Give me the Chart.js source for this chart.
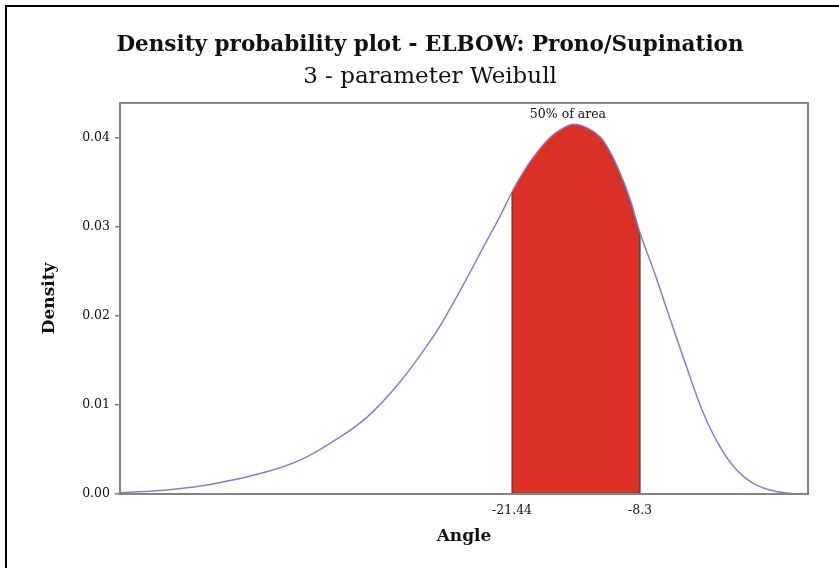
<!DOCTYPE html>
<html>
<head>
<meta charset="utf-8">
<script src="https://cdn.jsdelivr.net/npm/chart.js@4/dist/chart.umd.min.js"></script>
<style>
  html, body { margin: 0; padding: 0; background: #fff; }
  body { width: 839px; height: 568px; position: relative; overflow: hidden; }
  #frame { position: absolute; left: 5px; top: 5px; width: 840px; height: 570px;
           border-left: 2px solid #000; border-top: 2px solid #000; }
  #wrap { position: absolute; left: 21px; top: 0; width: 818px; height: 568px; }
</style>
</head>
<body>
<div id="frame"></div>
<div id="wrap"><canvas id="chart"></canvas></div>
<script>
// Fitted 3-parameter Weibull density for elbow prono/supination angle
const angles = [-61.7, -56.89, -51.76, -46.62, -43.21, -39.82, -36.36, -32.94, -29.52, -27.81,
                -26.09, -24.39, -22.67, -21.44, -20.62, -19.25, -17.54, -16.3, -15.1, -13.74,
                -12.41, -11.58, -10.69, -9.33, -8.30, -6.93, -5.22, -3.50, -1.80, -0.08,
                1.63, 3.33, 5.05, 6.76, 7.82, 8.95];
const density = [0.00015, 0.00045, 0.0012, 0.0025, 0.0038, 0.0059, 0.0086, 0.0126, 0.0177, 0.0208,
                 0.0242, 0.0277, 0.0312, 0.0339, 0.0355, 0.0378, 0.0400, 0.0410, 0.0415, 0.0411,
                 0.0401, 0.0388, 0.0369, 0.0331, 0.0293, 0.0252, 0.0197, 0.0142, 0.0091, 0.0053,
                 0.0027, 0.0012, 0.00045, 0.0001, 0.0, 0.0];

// Central interval holding half of the probability mass
const lowerBound = -21.44;
const upperBound = -8.3;
const xTicks = [lowerBound, upperBound];
const yTicks = [0, 0.01, 0.02, 0.03, 0.04];
const xMin = -61.7, xMax = 8.95;
const yMin = 0, yMax = 0.0439;

const areaLabel = '50% of area';
const areaLabelX = -15.7;
const areaLabelY = 0.0426;

const SERIF = '"DejaVu Serif", "Liberation Serif", serif';
const curvePoints = angles.map((a, i) => ({ x: a, y: density[i] }));
const shadedPoints = curvePoints.filter(p => p.x >= lowerBound && p.x <= upperBound);

const edgeAt = v => {
  const p = curvePoints.find(q => q.x === v);
  return [{ x: v, y: 0 }, { x: v, y: p.y }];
};

const framePlugin = {
  id: 'plotFrame',
  afterDatasetsDraw(chart) {
    const { ctx, chartArea: a } = chart;
    ctx.save();
    ctx.strokeStyle = '#838383';
    ctx.lineWidth = 2;
    ctx.strokeRect(a.left, a.top, a.right - a.left, a.bottom - a.top);
    ctx.restore();
  },
  afterDraw(chart) {
    const { ctx, scales } = chart;
    ctx.save();
    ctx.font = '12.5px ' + SERIF;
    ctx.fillStyle = '#111';
    ctx.textAlign = 'center';
    ctx.textBaseline = 'middle';
    ctx.fillText(areaLabel, scales.x.getPixelForValue(areaLabelX), scales.y.getPixelForValue(areaLabelY));
    ctx.restore();
  }
};

new Chart(document.getElementById('chart'), {
  type: 'line',
  data: {
    datasets: [
      {
        data: curvePoints,
        borderColor: 'rgba(122,122,204,0.95)',
        borderWidth: 1.5,
        pointRadius: 0,
        fill: false,
        tension: 0.4,
        order: 0
      },
      {
        data: edgeAt(lowerBound),
        borderColor: '#4a3a3a',
        borderWidth: 1.2,
        pointRadius: 0,
        fill: false,
        order: 1
      },
      {
        data: edgeAt(upperBound),
        borderColor: '#4a3a3a',
        borderWidth: 1.2,
        pointRadius: 0,
        fill: false,
        order: 1
      },
      {
        data: shadedPoints,
        borderWidth: 0,
        borderColor: 'rgba(0,0,0,0)',
        backgroundColor: '#da3025',
        pointRadius: 0,
        fill: 'origin',
        tension: 0.4,
        order: 2
      }
    ]
  },
  options: {
    responsive: true,
    maintainAspectRatio: false,
    animation: false,
    events: [],
    layout: { padding: { top: 20, left: 0, right: 0, bottom: 0 } },
    plugins: {
      legend: { display: false },
      tooltip: { enabled: false },
      title: {
        display: true,
        text: 'Density probability plot - ELBOW: Prono/Supination',
        color: '#111',
        font: { family: SERIF, size: 21.5, weight: 'bold' },
        padding: { top: 13, bottom: 0 }
      },
      subtitle: {
        display: true,
        text: '3 - parameter Weibull',
        color: '#111',
        font: { family: SERIF, size: 23, weight: 'normal' },
        padding: { top: 4, bottom: 12.5 }
      }
    },
    scales: {
      x: {
        type: 'linear',
        min: xMin,
        max: xMax,
        afterBuildTicks: s => { s.ticks = xTicks.map(v => ({ value: v })); },
        afterFit: s => { s.height = 74; },
        ticks: {
          autoSkip: false,
          maxRotation: 0,
          padding: 9,
          color: '#111',
          font: { family: SERIF, size: 12.5 },
          callback: v => String(v)
        },
        grid: { display: true, drawOnChartArea: false, drawTicks: false, color: '#838383' },
        border: { display: false },
        title: {
          display: true,
          text: 'Angle',
          color: '#111',
          font: { family: SERIF, size: 17, weight: 'bold' },
          padding: { top: 0, bottom: 21 }
        }
      },
      y: {
        min: yMin,
        max: yMax,
        afterBuildTicks: s => { s.ticks = yTicks.map(v => ({ value: v })); },
        afterFit: s => { s.width = 99; },
        ticks: {
          padding: 5,
          color: '#111',
          font: { family: SERIF, size: 12.5 },
          callback: v => v.toFixed(2)
        },
        grid: { display: true, drawOnChartArea: false, drawTicks: true, tickLength: 5, color: '#838383', lineWidth: 1.5 },
        border: { display: false },
        title: {
          display: true,
          text: 'Density',
          color: '#111',
          font: { family: SERIF, size: 17, weight: 'bold' },
          padding: { top: 18, bottom: 0 }
        }
      },
      // empty margin to the right of the plot frame
      yRight: {
        position: 'right',
        display: true,
        min: yMin,
        max: yMax,
        afterFit: s => { s.width = 31; },
        ticks: { display: false },
        grid: { display: false },
        border: { display: false }
      }
    }
  },
  plugins: [framePlugin]
});
</script>
</body>
</html>
